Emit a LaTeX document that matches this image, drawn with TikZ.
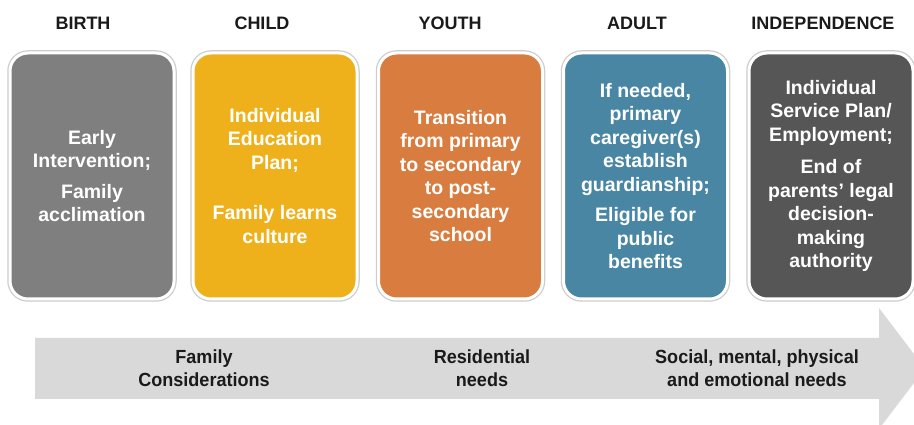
\documentclass[tikz,border=0pt]{standalone}
\usepackage{fontspec}
\setmainfont{Liberation Sans}
\newfontfamily\narrowsans[FakeStretch=0.95]{Liberation Sans}
\usepackage{tikz}
\usetikzlibrary{positioning}
\definecolor{stagegray}{HTML}{7F7F7F}
\definecolor{stagegold}{HTML}{EEB11C}
\definecolor{stageorange}{HTML}{D87C3F}
\definecolor{stageblue}{HTML}{4886A3}
\definecolor{stagedark}{HTML}{565656}
\definecolor{timeline}{HTML}{D9D9D9}
\definecolor{ink}{HTML}{1A1A1A}

\begin{document}
\begin{tikzpicture}[x=1pt,y=1pt,
		stage/.style={rounded corners=18pt,minimum width=164pt,minimum height=246pt,
			inner sep=0pt,align=center,text=white,draw=white,line width=3pt,
			preaction={draw=black!20,line width=5.5pt},
			font=\bfseries\fontsize{19.5}{23.5}\selectfont},
		age/.style={anchor=base,text=ink,font=\bfseries\fontsize{18}{20}\selectfont},
		need/.style={align=center,text=ink,font=\narrowsans\bfseries\fontsize{19}{22.5}\selectfont}]
	
	\useasboundingbox (0,0) rectangle (914,425);
	\clip (0,0) rectangle (914,425);
	
	% timeline arrow
	\fill[timeline] (35,87) -- (879,87) -- (879,117) -- (925,56.5)
	-- (879,-4) -- (879,26) -- (35,26) -- cycle;
	
	\node[need] (family) at (204,57) {Family\\Considerations};
	\node[need] (resid) at (482,57) {Residential\\needs};
	\node[need] (social) at (757,57) {Social, mental, physical\\and emotional needs};
	
	% life stages
	\node[stage,fill=stagegray] (birth) at (92,249)
	{Early\\Intervention;\\[7pt]Family\\acclimation};
	\node[stage,fill=stagegold] (child) at (275,249)
	{Individual\\Education\\Plan;\\[27pt]Family learns\\culture};
	\node[stage,fill=stageorange] (youth) at (460.5,249)
	{Transition\\from primary\\to secondary\\to post-\\secondary\\school};
	\node[stage,fill=stageblue] (adult) at (645.5,249)
	{If needed,\\primary\\caregiver(s)\\establish\\guardianship;\\[7pt]Eligible for\\public\\benefits};
	\node[stage,fill=stagedark] (indep) at (831,249)
	{Individual\\Service Plan/\\Employment;\\[9pt]End of\\parents’ legal\\decision-\\making\\authority};
	
	\node[age] (birthlbl) at (83,395) {BIRTH};
	\node[age] (childlbl) at (262,395) {CHILD};
	\node[age] (youthlbl) at (450,395) {YOUTH};
	\node[age] (adultlbl) at (637,395) {ADULT};
	\node[age] (indeplbl) at (823,395) {INDEPENDENCE};
	
\end{tikzpicture}
\end{document}
